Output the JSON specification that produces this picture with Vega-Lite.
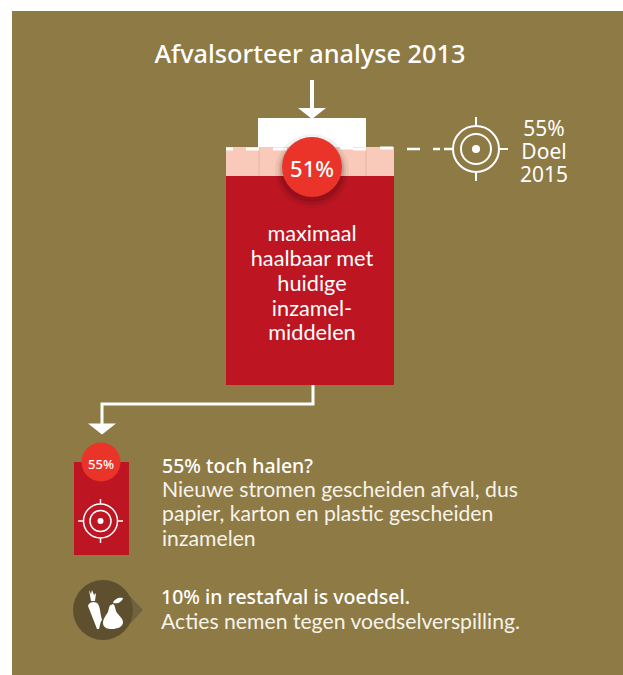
{
"$schema":"https://vega.github.io/schema/vega-lite/v6.json",
"width":623,"height":675,"padding":0,"autosize":{"type":"none"},"background":"#ffffff",
"config":{"view":{"stroke":null},"font":"Lato"},
"datasets":{
"blocks":[
{"part":"panel","x":12,"x2":623,"y":11,"y2":675},
{"part":"intake","x":258,"x2":366,"y":118,"y2":148},
{"part":"reachable gap","x":226,"x2":394,"y":147,"y2":176},
{"part":"reachable","x":226,"x2":394,"y":176,"y2":385},
{"part":"extra","x":74,"x2":129,"y":462,"y2":555}
],
"seams":[{"x":259,"y":148,"y2":176},{"x":366,"y":148,"y2":176}],
"notches":[{"x":226,"x2":233,"y":149},{"x":246,"x2":259,"y":149},{"x":273,"x2":287,"y":149},{"x":340,"x2":353,"y":148},{"x":353,"x2":366,"y":149},{"x":380,"x2":393,"y":148}],
"dashes":[{"x":407,"x2":420,"y":149},{"x":433,"x2":440,"y":149},{"x":444,"x2":453,"y":149}],
"ticks":[
{"x":499,"x2":508,"y":149,"y2":149},{"x":476,"x2":476,"y":117,"y2":126},{"x":476,"x2":476,"y":172,"y2":181}],
"smallticks":[
{"x":78,"x2":84,"y":521,"y2":521},{"x":117,"x2":123,"y":521,"y2":521},{"x":100.5,"x2":100.5,"y":499,"y2":504},{"x":100.5,"x2":100.5,"y":538,"y2":543}],
"arrows":[{"x":312,"x2":312,"y":80,"y2":110}],
"connector":[{"x":313,"y":385,"o":1},{"x":313,"y":404,"o":2},{"x":102,"y":404,"o":3},{"x":102,"y":425,"o":4}],
"heads":[{"x":312,"y":113.5},{"x":102,"y":429}],
"body":[
{"x":312,"y":241,"t":"maximaal"},{"x":312,"y":266,"t":"haalbaar met"},{"x":312,"y":291,"t":"huidige"},{"x":312,"y":316,"t":"inzamel-"},{"x":312,"y":340,"t":"middelen"}],
"notes":[
{"x":162,"y":497,"t":"Nieuwe stromen gescheiden afval, dus"},{"x":162,"y":521,"t":"papier, karton en plastic gescheiden"},{"x":162,"y":546,"t":"inzamelen"},{"x":161,"y":629,"t":"Acties nemen tegen voedselverspilling."}],
"heads2":[{"x":162,"y":473,"t":"55% toch halen?"},{"x":161,"y":604,"t":"10% in restafval is voedsel."}],
"goal":[{"x":544,"y":136,"t":"55%"},{"x":544,"y":159,"t":"Doel"},{"x":544,"y":182,"t":"2015"}]
},
"encoding":{
"x":{"field":"x","type":"quantitative","scale":{"domain":[0,623],"nice":false,"zero":false},"axis":null},
"y":{"field":"y","type":"quantitative","scale":{"domain":[675,0],"nice":false,"zero":false},"axis":null}
},
"layer":[
{"data":{"name":"blocks"},"mark":{"type":"rect"},
 "encoding":{"x2":{"field":"x2"},"y2":{"field":"y2"},
 "color":{"field":"part","type":"nominal","legend":null,"scale":{"domain":["panel","intake","reachable gap","reachable","extra"],"range":["#8e7a44","#ffffff","#f9cab9","#bd1622","#bd1622"]}}}},
{"data":{"name":"seams"},"mark":{"type":"rule","color":"#e8b3a2","strokeWidth":1},"encoding":{"y2":{"field":"y2"}}},
{"data":{"name":"notches"},"mark":{"type":"rule","color":"#ffffff","strokeWidth":3},"encoding":{"x2":{"field":"x2"}}},
{"data":{"name":"dashes"},"mark":{"type":"rule","color":"#ffffff","strokeWidth":2.5},"encoding":{"x2":{"field":"x2"}}},
{"data":{"name":"ticks"},"mark":{"type":"rule","color":"#ffffff","strokeWidth":2},"encoding":{"x2":{"field":"x2"},"y2":{"field":"y2"}}},
{"data":{"name":"smallticks"},"mark":{"type":"rule","color":"#ffffff","strokeWidth":1.5},"encoding":{"x2":{"field":"x2"},"y2":{"field":"y2"}}},
{"data":{"name":"arrows"},"mark":{"type":"rule","color":"#ffffff","strokeWidth":4},"encoding":{"x2":{"field":"x2"},"y2":{"field":"y2"}}},
{"data":{"name":"connector"},"mark":{"type":"line","color":"#ffffff","strokeWidth":3,"strokeJoin":"miter"},"encoding":{"order":{"field":"o"}}},
{"data":{"name":"heads"},"mark":{"type":"point","filled":true,"fill":"#ffffff","opacity":1,"strokeWidth":0,"size":4,"shape":"M-14,-5.5L14,-5.5L0,5.5Z"}},
{"data":{"values":[{"x":312,"y":171}]},"mark":{"type":"point","filled":true,"fill":"#000000","opacity":0.05,"strokeWidth":0,"size":5476}},
{"data":{"values":[{"x":312,"y":171}]},"mark":{"type":"point","filled":true,"fill":"#000000","opacity":0.07,"strokeWidth":0,"size":4624}},
{"data":{"values":[{"x":312,"y":170}]},"mark":{"type":"point","filled":true,"fill":"#000000","opacity":0.1,"strokeWidth":0,"size":4096}},
{"data":{"values":[{"x":312,"y":167}]},"mark":{"type":"point","filled":true,"fill":"#ea3329","opacity":1,"strokeWidth":0,"size":3600}},
{"data":{"values":[{"x":101,"y":462}]},"mark":{"type":"point","filled":true,"fill":"#ea3329","opacity":1,"strokeWidth":0,"size":1521}},
{"data":{"values":[{"x":476,"y":149}]},"mark":{"type":"point","filled":false,"stroke":"#ffffff","opacity":1,"strokeWidth":2,"size":2116}},
{"data":{"values":[{"x":476,"y":149}]},"mark":{"type":"point","filled":false,"stroke":"#ffffff","opacity":1,"strokeWidth":2,"size":900}},
{"data":{"values":[{"x":476,"y":149}]},"mark":{"type":"point","filled":true,"fill":"#ffffff","opacity":1,"strokeWidth":0,"size":64}},
{"data":{"values":[{"x":100.5,"y":521}]},"mark":{"type":"point","filled":false,"stroke":"#ffffff","opacity":1,"strokeWidth":1.5,"size":1156}},
{"data":{"values":[{"x":100.5,"y":521}]},"mark":{"type":"point","filled":false,"stroke":"#ffffff","opacity":1,"strokeWidth":1.5,"size":441}},
{"data":{"values":[{"x":100.5,"y":521}]},"mark":{"type":"point","filled":true,"fill":"#ffffff","opacity":1,"strokeWidth":0,"size":36}},
{"data":{"values":[{"x":103,"y":610}]},"mark":{"type":"point","filled":true,"fill":"#716340","opacity":1,"strokeWidth":0,"size":4,"shape":"M24,-17L40,0L24,17Z"}},
{"data":{"values":[{"x":103,"y":610}]},"mark":{"type":"point","filled":true,"fill":"#5e4f2f","opacity":1,"strokeWidth":0,"size":3600}},
{"data":{"values":[{"x":103,"y":610}]},"mark":{"type":"point","filled":true,"fill":"#ffffff","opacity":1,"strokeWidth":0,"size":4,
 "shape":"M-15,-4C-14,-9-7,-9-5,-6C-3,-3-3,1-2,6L-1,10C-3,12-3,16-4,19L-6,19ZM-12,-9L-14,-20L-12,-16L-11,-20L-9,-15L-7,-17L-8,-9ZM8,-5C6,-5 6,-1 5,2C3,5 0,9 0,13C0,18 5,19 9,19C14,19 20,17 20,12C20,8 14,4 13,1C12,-2 12,-5 10,-6ZM10,-7C11,-11 16,-13 20,-12C19,-8 15,-6 10,-7Z"}},
{"data":{"name":"body"},"mark":{"type":"text","font":"Lato","fontSize":21.7,"color":"#ffffff","align":"center","baseline":"alphabetic"},"encoding":{"text":{"field":"t"}}},
{"data":{"name":"notes"},"mark":{"type":"text","font":"Lato","fontSize":21.2,"color":"#f6f3ea","align":"left","baseline":"alphabetic"},"encoding":{"text":{"field":"t"}}},
{"data":{"name":"heads2"},"mark":{"type":"text","font":"Noto Sans","fontWeight":500,"fontSize":19.5,"color":"#ffffff","align":"left","baseline":"alphabetic"},"encoding":{"text":{"field":"t"}}},
{"data":{"name":"goal"},"mark":{"type":"text","font":"Noto Sans","fontSize":21,"color":"#ffffff","align":"center","baseline":"alphabetic"},"encoding":{"text":{"field":"t"}}},
{"data":{"values":[{"x":310,"y":63,"t":"Afvalsorteer analyse 2013"}]},"mark":{"type":"text","font":"Noto Sans","fontWeight":500,"fontSize":25.3,"color":"#ffffff","align":"center","baseline":"alphabetic"},"encoding":{"text":{"field":"t"}}},
{"data":{"values":[{"x":312,"y":177,"t":"51%"}]},"mark":{"type":"text","font":"Noto Sans","fontWeight":500,"fontSize":22,"color":"#ffffff","align":"center","baseline":"alphabetic"},"encoding":{"text":{"field":"t"}}},
{"data":{"values":[{"x":101,"y":469,"t":"55%"}]},"mark":{"type":"text","font":"Noto Sans","fontWeight":500,"fontSize":13,"color":"#ffffff","align":"center","baseline":"alphabetic"},"encoding":{"text":{"field":"t"}}}
]
}
